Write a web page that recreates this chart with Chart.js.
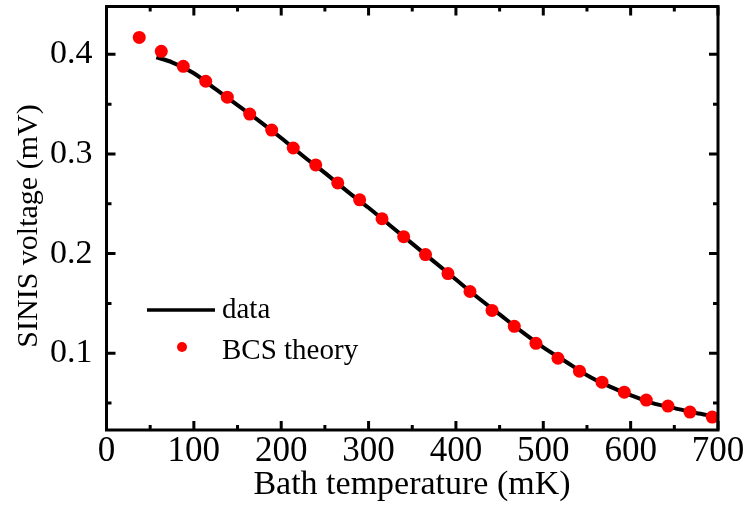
<!DOCTYPE html>
<html>
<head>
<meta charset="utf-8">
<script src="https://cdn.jsdelivr.net/npm/chart.js@4.4.1/dist/chart.umd.min.js"></script>
<style>
  body { margin: 0; background: #fff; }
  #wrap { width: 745px; height: 518px; }
</style>
</head>
<body>
<div id="wrap"><canvas id="chart" width="745" height="518"></canvas></div>
<script>
// BCS theory points (mK, mV)
const bcsTemp = [37.5, 62.7, 87.9, 113.6, 138.3, 163.9, 189.1, 213.8, 239.5, 264.7, 289.8, 315.4, 340.2, 365.2,
    390.9, 416.1, 441.3, 466.8, 491.6, 516.8, 541.4, 567.2, 592.7, 617.9, 642.7, 667.9, 693.4];
const bcsVolt = [0.417, 0.403, 0.388, 0.373, 0.357, 0.340, 0.324, 0.306, 0.289, 0.271, 0.254, 0.235, 0.217, 0.199,
    0.180, 0.162, 0.143, 0.127, 0.110, 0.095, 0.082, 0.071, 0.061, 0.053, 0.047, 0.041, 0.036];

// measured data curve
const dataTemp = [57, 75, 100, 125, 150, 175, 200, 225, 250, 275, 300, 325, 350, 375, 400, 425, 450, 475, 500,
    525, 550, 575, 600, 625, 650, 675, 694];
const dataVolt = [0.397, 0.392, 0.381, 0.365, 0.349, 0.333, 0.316, 0.298, 0.281, 0.263, 0.246, 0.228, 0.210, 0.192,
    0.174, 0.156, 0.139, 0.122, 0.106, 0.092, 0.078, 0.067, 0.058, 0.050, 0.045, 0.040, 0.037];

// tick values
const xTicks = [0, 100, 200, 300, 400, 500, 600, 700];
const xMinor = [50, 150, 250, 350, 450, 550, 650];
const yTicks = [0.1, 0.2, 0.3, 0.4];
const yMinor = [0.05, 0.15, 0.25, 0.35];

const serif = "'Liberation Serif', 'Times New Roman', serif";

function toPoints(xs, ys) {
    return xs.map((x, i) => ({ x: x, y: ys[i] }));
}

// frame, inward ticks on all four sides, axis titles and the legend
const framePlugin = {
    id: 'frame',
    afterDraw(chart) {
        const ctx = chart.ctx;
        const a = chart.chartArea;
        const xs = chart.scales.x;
        const ys = chart.scales.y;
        ctx.save();
        ctx.strokeStyle = '#000';
        ctx.lineWidth = 3;
        ctx.strokeRect(a.left, a.top, a.right - a.left, a.bottom - a.top);

        function xTick(v, len) {
            const px = xs.getPixelForValue(v);
            ctx.beginPath();
            ctx.moveTo(px, a.bottom); ctx.lineTo(px, a.bottom - len);
            ctx.moveTo(px, a.top); ctx.lineTo(px, a.top + len);
            ctx.stroke();
        }
        function yTick(v, len) {
            const py = ys.getPixelForValue(v);
            ctx.beginPath();
            ctx.moveTo(a.left, py); ctx.lineTo(a.left + len, py);
            ctx.moveTo(a.right, py); ctx.lineTo(a.right - len, py);
            ctx.stroke();
        }
        xTicks.forEach(v => xTick(v, 9));
        xMinor.forEach(v => xTick(v, 5));
        yTicks.forEach(v => yTick(v, 9));
        yMinor.forEach(v => yTick(v, 5));

        ctx.fillStyle = '#000';
        ctx.textBaseline = 'alphabetic';
        ctx.textAlign = 'center';
        // axis titles
        ctx.font = '34px ' + serif;
        ctx.fillText('Bath temperature (mK)', 412, 494);
        ctx.save();
        ctx.translate(37, 226);
        ctx.rotate(-Math.PI / 2);
        ctx.font = '30px ' + serif;
        ctx.fillText('SINIS voltage (mV)', 0, 0);
        ctx.restore();

        // legend
        ctx.lineWidth = 3.5;
        ctx.beginPath();
        ctx.moveTo(147, 310); ctx.lineTo(215, 310);
        ctx.stroke();
        ctx.fillStyle = '#ff0000';
        ctx.beginPath();
        ctx.arc(182, 347, 5, 0, Math.PI * 2);
        ctx.fill();
        ctx.fillStyle = '#000';
        ctx.font = '29px ' + serif;
        ctx.textAlign = 'left';
        ctx.fillText('data', 222, 318);
        ctx.fillText('BCS theory', 222, 359);
        ctx.restore();
    }
};

new Chart(document.getElementById('chart'), {
    type: 'scatter',
    data: {
        datasets: [{
            label: 'BCS theory',
            data: toPoints(bcsTemp, bcsVolt),
            backgroundColor: '#ff0000',
            borderColor: '#ff0000',
            pointRadius: 6.5,
            pointBorderWidth: 0,
            order: 0
        }, {
            label: 'data',
            data: toPoints(dataTemp, dataVolt),
            showLine: true,
            borderColor: '#000',
            borderWidth: 4,
            pointRadius: 0,
            tension: 0.3,
            order: 1
        }]
    },
    options: {
        responsive: false,
        animation: false,
        layout: { padding: { top: 5, right: 27, left: 0, bottom: 0 } },
        plugins: {
            legend: { display: false },
            tooltip: { enabled: false }
        },
        scales: {
            x: {
                type: 'linear',
                min: 0,
                max: 700,
                afterBuildTicks: s => { s.ticks = xTicks.map(v => ({ value: v })); },
                afterFit: s => { s.height = 88; s.paddingLeft = 0; s.paddingRight = 0; },
                grid: { display: false, drawTicks: false },
                border: { display: false },
                ticks: {
                    color: '#000',
                    padding: 1,
                    font: { family: serif, size: 35 },
                    callback: v => String(v)
                }
            },
            y: {
                type: 'linear',
                min: 0.023,
                max: 0.448,
                afterBuildTicks: s => { s.ticks = yTicks.map(v => ({ value: v })); },
                afterFit: s => { s.width = 106.5; s.paddingTop = 0; s.paddingBottom = 0; },
                grid: { display: false, drawTicks: false },
                border: { display: false },
                ticks: {
                    color: '#000',
                    padding: 14,
                    font: { family: serif, size: 34 },
                    callback: v => v.toFixed(1)
                }
            }
        }
    },
    plugins: [framePlugin]
});
</script>
</body>
</html>
